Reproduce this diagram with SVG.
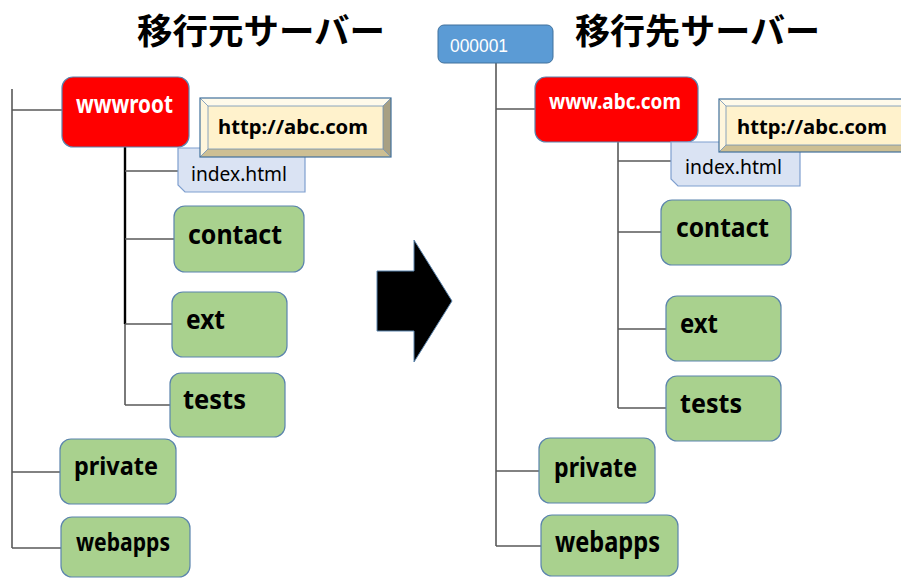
<svg xmlns="http://www.w3.org/2000/svg" width="901" height="578" viewBox="0 0 901 578">
<style>
.title{font-family:"Noto Sans CJK JP","Noto Sans",sans-serif;font-weight:bold;font-size:35px;fill:#000}
.lbl{font-family:"Noto Sans","Liberation Sans",sans-serif;font-weight:bold;fill:#000}
.wl{font-family:"Noto Sans","Liberation Sans",sans-serif;font-weight:bold;fill:#fff}
.reg{font-family:"Noto Sans","Liberation Sans",sans-serif;font-size:19px;fill:#000}
.green{fill:#a9d18e;stroke:#5b84ad;stroke-width:1.2}
.red{fill:#ff0000;stroke:#5b84ad;stroke-width:1.2}
.idx{fill:#dae3f3;stroke:#7f9fcf;stroke-width:1.2}
.conn line{stroke:#595959;stroke-width:1.6}
.bt{fill:#fffaea}.bl{fill:#fff6dc}.bb{fill:#cdbf93}.br{fill:#a8a083}.bc{fill:#fff2cc}
.bo{fill:none;stroke:#41719c;stroke-width:1.2}
.bi{stroke:#6d8fb5;stroke-width:0.8}
</style>
<rect width="901" height="578" fill="#fff"/>
<text class="title" x="137" y="44" textLength="248" lengthAdjust="spacingAndGlyphs">移行元サーバー</text>
<text class="title" x="575" y="44" textLength="245" lengthAdjust="spacingAndGlyphs">移行先サーバー</text>

<g id="connectors" class="conn">
  <line x1="12" y1="89" x2="12" y2="548"/>
  <line x1="12" y1="110" x2="62" y2="110"/>
  <line x1="12" y1="472" x2="60" y2="472"/>
  <line x1="12" y1="548" x2="61" y2="548"/>
  <line x1="125" y1="147" x2="125" y2="405"/>
  <line x1="125" y1="147" x2="125" y2="324" style="stroke:#000;stroke-width:2.4"/>
  <line x1="125" y1="171" x2="178" y2="171"/>
  <line x1="125" y1="239" x2="174" y2="239"/>
  <line x1="125" y1="324" x2="172" y2="324"/>
  <line x1="125" y1="405" x2="170" y2="405"/>
  <line x1="496" y1="63" x2="496" y2="546"/>
  <line x1="496" y1="109" x2="535" y2="109"/>
  <line x1="496" y1="471" x2="539" y2="471"/>
  <line x1="496" y1="546" x2="541" y2="546"/>
  <line x1="618" y1="142" x2="618" y2="408"/>
  <line x1="618" y1="161" x2="671" y2="161"/>
  <line x1="618" y1="232" x2="661" y2="232"/>
  <line x1="618" y1="329" x2="666" y2="329"/>
  <line x1="618" y1="408" x2="666" y2="408"/>
</g>

<g id="arrow">
  <polygon points="377,271 414,271 414,240 452,301 414,362 414,331 377,331" fill="#000" stroke="#5b84ad" stroke-width="1"/>
</g>

<!-- left tree -->
<g id="wwwroot">
  <rect class="red" x="62" y="77" width="127" height="70" rx="11"/>
  <text class="wl" x="76" y="113" font-size="25" textLength="97" lengthAdjust="spacingAndGlyphs">wwwroot</text>
</g>
<g id="index-left">
  <path class="idx" d="M178,148 H305 V192 H185 L178,185 Z"/>
  <text class="reg" x="191" y="181" textLength="96" lengthAdjust="spacingAndGlyphs">index.html</text>
</g>
<g id="url-left">
  <polygon class="bt" points="200,98 391,98 383,106 208,106"/>
  <polygon class="bl" points="200,98 208,106 208,149 200,157"/>
  <polygon class="bb" points="200,157 208,149 383,149 391,157"/>
  <polygon class="br" points="391,98 391,157 383,149 383,106"/>
  <rect class="bc" x="208" y="106" width="175" height="43"/>
  <path class="bi" fill="none" d="M200,98 L208,106 M391,98 L383,106 M200,157 L208,149 M391,157 L383,149 M208,106 H383 V149 H208 Z"/>
  <rect class="bo" x="200" y="98" width="191" height="59"/>
  <text class="lbl" x="218" y="134" font-size="20" textLength="150" lengthAdjust="spacingAndGlyphs">http://abc.com</text>
</g>
<g id="contact-left">
  <rect class="green" x="174" y="206" width="130" height="66" rx="11"/>
  <text class="lbl" x="188" y="244" font-size="27" textLength="94" lengthAdjust="spacingAndGlyphs">contact</text>
</g>
<g id="ext-left">
  <rect class="green" x="172" y="292" width="115" height="65" rx="11"/>
  <text class="lbl" x="186" y="329" font-size="27" textLength="39" lengthAdjust="spacingAndGlyphs">ext</text>
</g>
<g id="tests-left">
  <rect class="green" x="170" y="373" width="115" height="64" rx="11"/>
  <text class="lbl" x="183" y="409" font-size="27" textLength="63" lengthAdjust="spacingAndGlyphs">tests</text>
</g>
<g id="private-left">
  <rect class="green" x="60" y="439" width="116" height="65" rx="11"/>
  <text class="lbl" x="74" y="475" font-size="25" textLength="84" lengthAdjust="spacingAndGlyphs">private</text>
</g>
<g id="webapps-left">
  <rect class="green" x="61" y="517" width="129" height="60" rx="11"/>
  <text class="lbl" x="76" y="551" font-size="25" textLength="94" lengthAdjust="spacingAndGlyphs">webapps</text>
</g>

<!-- right tree -->
<g id="server-id">
  <rect x="438" y="25" width="115" height="38" rx="6" fill="#5b9bd5" stroke="#41719c" stroke-width="1"/>
  <text x="450" y="52" font-family="Liberation Sans, Arial, sans-serif" font-size="18" fill="#fff" textLength="58" lengthAdjust="spacingAndGlyphs">000001</text>
</g>
<g id="www-abc">
  <rect class="red" x="535" y="77" width="163" height="65" rx="11"/>
  <text class="wl" x="549" y="109" font-size="21" textLength="132" lengthAdjust="spacingAndGlyphs">www.abc.com</text>
</g>
<g id="index-right">
  <path class="idx" d="M671,142 H800 V186 H678 L671,179 Z"/>
  <text class="reg" x="685" y="174" textLength="97" lengthAdjust="spacingAndGlyphs">index.html</text>
</g>
<g id="url-right">
  <polygon class="bt" points="719,99 925,99 918,106 726,106"/>
  <polygon class="bl" points="719,99 726,106 726,145 719,152"/>
  <polygon class="bb" points="719,152 726,145 918,145 925,152"/>
  <rect class="bc" x="726" y="106" width="192" height="39"/>
  <path class="bi" fill="none" d="M719,99 L726,106 M719,152 L726,145 M726,106 H918 M726,106 V145 H918"/>
  <rect class="bo" x="719" y="99" width="206" height="53"/>
  <text class="lbl" x="737" y="134" font-size="20" textLength="150" lengthAdjust="spacingAndGlyphs">http://abc.com</text>
</g>
<g id="contact-right">
  <rect class="green" x="661" y="200" width="130" height="65" rx="11"/>
  <text class="lbl" x="676" y="237" font-size="26" textLength="93" lengthAdjust="spacingAndGlyphs">contact</text>
</g>
<g id="ext-right">
  <rect class="green" x="666" y="296" width="115" height="65" rx="11"/>
  <text class="lbl" x="680" y="333" font-size="26" textLength="38" lengthAdjust="spacingAndGlyphs">ext</text>
</g>
<g id="tests-right">
  <rect class="green" x="666" y="376" width="115" height="65" rx="11"/>
  <text class="lbl" x="680" y="413" font-size="27" textLength="62" lengthAdjust="spacingAndGlyphs">tests</text>
</g>
<g id="private-right">
  <rect class="green" x="539" y="438" width="116" height="65" rx="11"/>
  <text class="lbl" x="554" y="477" font-size="26" textLength="83" lengthAdjust="spacingAndGlyphs">private</text>
</g>
<g id="webapps-right">
  <rect class="green" x="541" y="515" width="137" height="61" rx="11"/>
  <text class="lbl" x="555" y="552" font-size="28" textLength="105" lengthAdjust="spacingAndGlyphs">webapps</text>
</g>
</svg>
